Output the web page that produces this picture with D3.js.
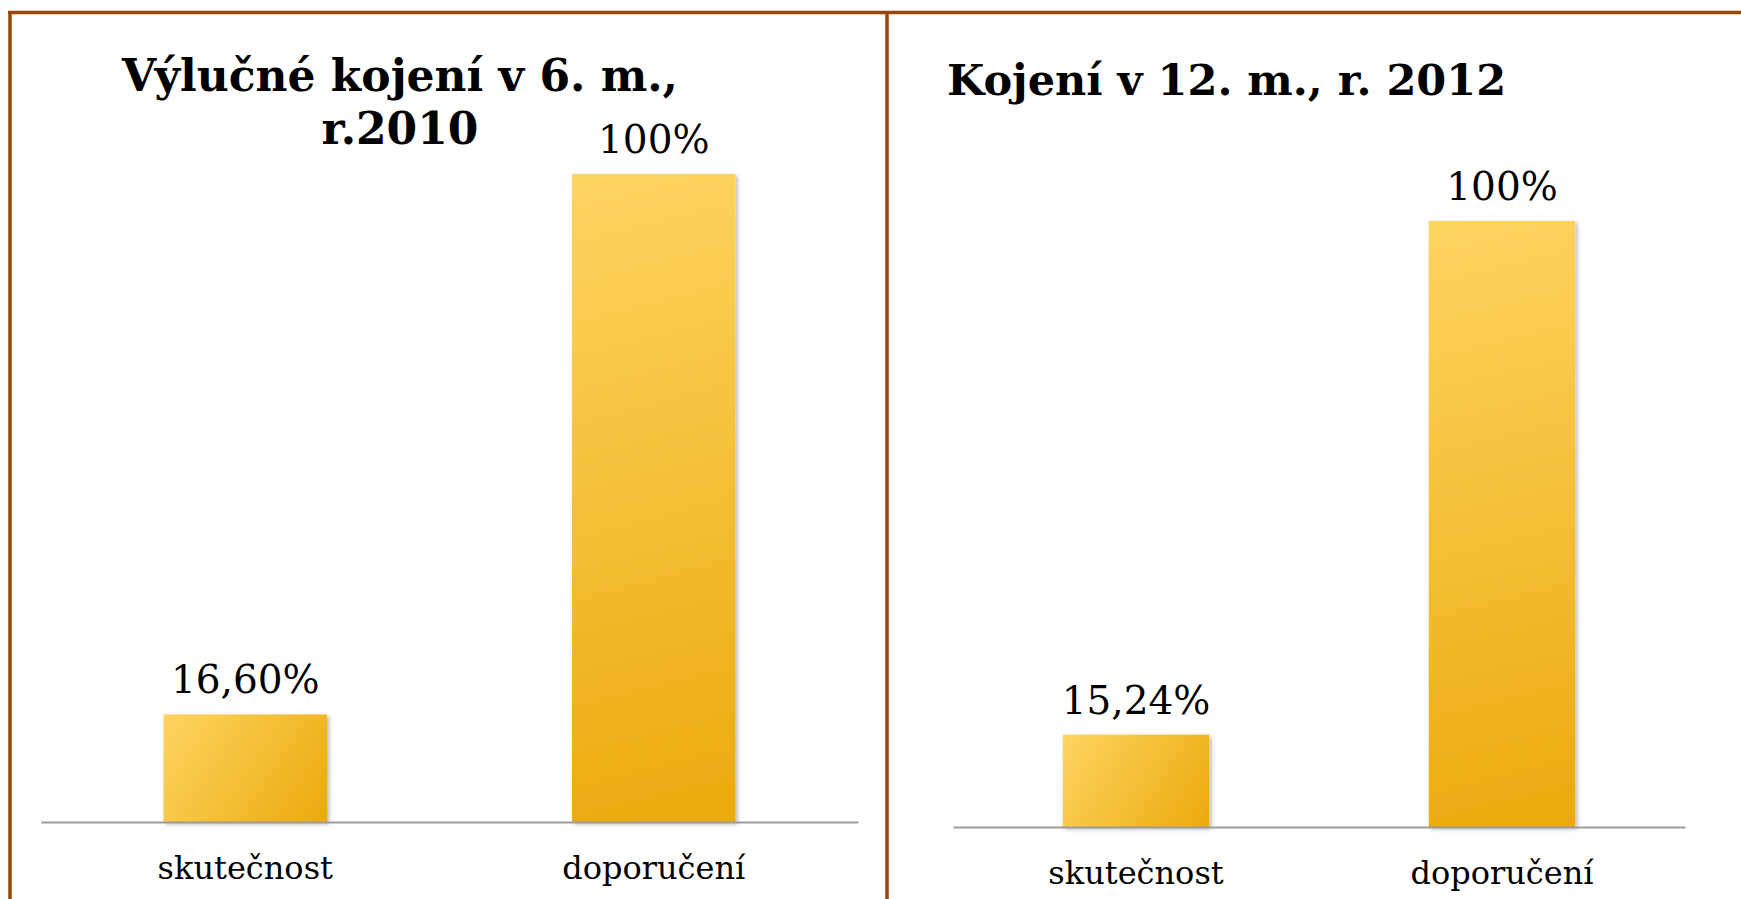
<!DOCTYPE html>
<html>
<head>
<meta charset="utf-8">
<script src="https://cdn.jsdelivr.net/npm/d3@7"></script>
<style>
  html, body { margin: 0; padding: 0; background: #fff; }
  svg { display: block; }
</style>
</head>
<body>
<div id="main"></div>
<script>
// data
var categories = ['skutečnost', 'doporučení'];
var valuesLeft = [16.6, 100];
var labelsLeft = ['16,60%', '100%'];
var valuesRight = [15.24, 100];
var labelsRight = ['15,24%', '100%'];
var titleLeft = ['Výlučné kojení v 6. m.,', 'r.2010'];
var titleRight = ['Kojení v 12. m., r. 2012'];

var W = 1741, H = 899;
var borderColor = '#9a4506';

var svg = d3.select('#main').append('svg')
    .attr('width', W).attr('height', H);

var defs = svg.append('defs');

var shadow = defs.append('filter').attr('id', 'barShadow')
    .attr('x', '-10%').attr('y', '-10%').attr('width', '130%').attr('height', '130%');
shadow.append('feDropShadow')
    .attr('dx', 2).attr('dy', 2).attr('stdDeviation', 2)
    .attr('flood-color', '#000').attr('flood-opacity', 0.3);

// frame
svg.append('line').attr('x1', 8).attr('x2', W).attr('y1', 12.5).attr('y2', 12.5)
    .style('stroke', borderColor).style('stroke-width', 3.5);
svg.append('line').attr('x1', 10).attr('x2', 10).attr('y1', 11).attr('y2', H)
    .style('stroke', borderColor).style('stroke-width', 3.5);
svg.append('line').attr('x1', 887).attr('x2', 887).attr('y1', 11).attr('y2', H)
    .style('stroke', borderColor).style('stroke-width', 3.5);

var gradCount = 0;
var barGradient = function(x0, y0, w, h) {
    var id = 'barGrad' + (gradCount++);
    var grad = defs.append('linearGradient')
        .attr('id', id)
        .attr('gradientUnits', 'userSpaceOnUse')
        .attr('x1', x0).attr('y1', y0).attr('x2', x0 + w).attr('y2', y0 + h);
    grad.append('stop').attr('offset', '0%').attr('stop-color', '#fed561');
    grad.append('stop').attr('offset', '100%').attr('stop-color', '#eba90c');
    return 'url(#' + id + ')';
};

var drawPanel = function(opts) {
    var x = d3.scaleBand()
        .domain(categories)
        .range([opts.x0, opts.x1])
        .paddingInner(0.6)
        .paddingOuter(0.3);
    var y = d3.scaleLinear()
        .domain([0, 100])
        .range([opts.base, opts.top]);

    var g = svg.append('g').attr('class', 'panel');

    // title
    g.selectAll('.title').data(opts.title)
        .enter().append('text')
        .attr('class', 'title')
        .attr('x', opts.titleX)
        .attr('y', function(d, i) { return opts.titleY + i * 53; })
        .style('text-anchor', opts.titleAnchor)
        .style('font', 'bold ' + opts.titleSize + 'px "DejaVu Serif", serif')
        .style('fill', '#000')
        .text(function(d) { return d; });

    // bars
    g.selectAll('.bar').data(opts.values)
        .enter().append('rect')
        .attr('class', 'bar')
        .attr('x', function(d, i) { return x(categories[i]); })
        .attr('y', function(d) { return y(d); })
        .attr('width', x.bandwidth())
        .attr('height', function(d) { return y(0) - y(d); })
        .style('fill', function(d, i) {
            return barGradient(x(categories[i]), y(d), x.bandwidth(), y(0) - y(d));
        })
        .attr('filter', 'url(#barShadow)');

    // axis
    var axis = d3.axisBottom(x).tickSize(0).tickPadding(0);
    var ax = g.append('g')
        .attr('transform', 'translate(0,' + opts.base + ')')
        .call(axis);
    ax.select('.domain').style('stroke', '#9c9c9c').style('stroke-width', 2);
    ax.selectAll('.tick text')
        .attr('y', 57).attr('dy', 0)
        .style('font', '32px "DejaVu Serif", serif')
        .style('fill', '#000');

    // value labels
    g.selectAll('.val').data(opts.values)
        .enter().append('text')
        .attr('class', 'val')
        .attr('x', function(d, i) { return x(categories[i]) + x.bandwidth() / 2; })
        .attr('y', function(d) { return y(d) - 21; })
        .style('text-anchor', 'middle')
        .style('font', '39px "DejaVu Serif", serif')
        .style('fill', '#000')
        .text(function(d, i) { return opts.labels[i]; });
};

drawPanel({
    x0: 41, x1: 858, base: 822, top: 174,
    values: valuesLeft, labels: labelsLeft,
    title: titleLeft, titleX: 400, titleY: 91, titleAnchor: 'middle', titleSize: 44
});

drawPanel({
    x0: 953, x1: 1685, base: 827, top: 221,
    values: valuesRight, labels: labelsRight,
    title: titleRight, titleX: 947, titleY: 95, titleAnchor: 'start', titleSize: 43
});
</script>
</body>
</html>
